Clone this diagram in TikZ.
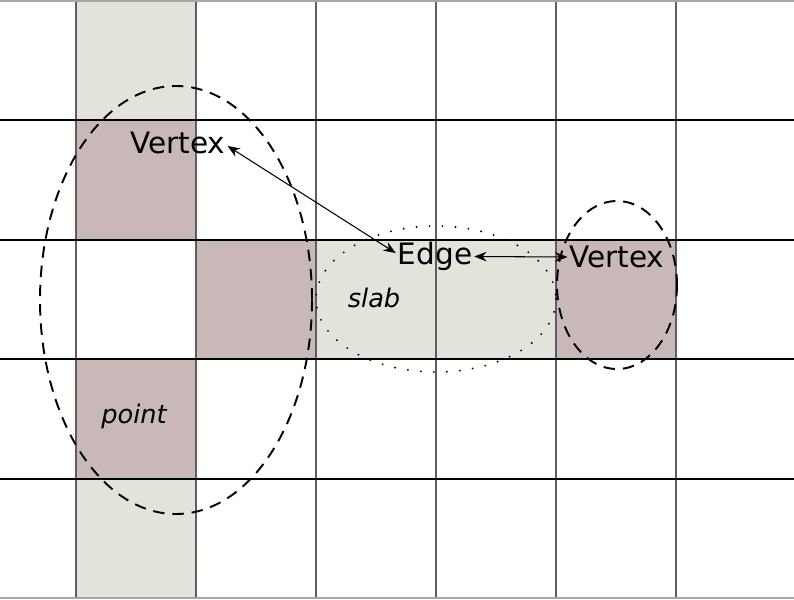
\documentclass[tikz,border=0pt]{standalone}
\usepackage{fontspec}
\setmainfont{DejaVu Sans}
\usetikzlibrary{arrows.meta}
\definecolor{SlabGrey}{HTML}{E3E2DB}
\definecolor{CellMauve}{HTML}{C8B8B8}
\definecolor{GridGrey}{HTML}{5E5E5E}

\begin{document}
\begin{tikzpicture}[x=0.02cm, y=-0.02cm, >={Stealth[length=7pt, width=5.5pt]},
    lbl/.style={font=\fontsize{16.8}{19}\selectfont, inner sep=1pt},
    tag/.style={font=\fontsize{14.6}{17}\selectfont\itshape, inner sep=1pt}]
  \useasboundingbox (0,0) rectangle (794,599);

  % Shaded cells
  \fill[SlabGrey] (76,0) rectangle (196,240);
  \fill[SlabGrey] (76,359) rectangle (196,599);
  \fill[SlabGrey] (316,240) rectangle (556,359);
  \fill[CellMauve] (76,120) rectangle (196,240);
  \fill[CellMauve] (196,240) rectangle (316,359);
  \fill[CellMauve] (76,359) rectangle (196,479);
  \fill[CellMauve] (556,240) rectangle (676,359);

  % Grid
  \foreach \x in {76,196,316,436,556,676}
    \draw[GridGrey, line width=1.1pt] (\x,0) -- (\x,599);
  \foreach \y in {120,240,359,479}
    \draw[line width=0.85pt] (0,\y) -- (794,\y);
  \draw[gray!70, line width=1pt] (0,0.8) -- (794,0.8) (0,598.2) -- (794,598.2);

  % Regions
  \draw[line width=1.1pt, dash pattern=on 6.5pt off 4.5pt] (176,300) ellipse [x radius=136, y radius=214];
  \draw[line width=1.1pt, dash pattern=on 6.5pt off 4.5pt] (617,285) ellipse [x radius=60, y radius=84];
  \draw[line width=1.2pt, line cap=round, dash pattern=on 0pt off 7.4pt] (436,299) ellipse [x radius=120, y radius=73];

  % Labels
  \node[lbl] (vertexA) at (178,142.5) {Vertex};
  \node[lbl] (edge) at (435,256.5) {Edge};
  \node[lbl] (vertexB) at (617,257) {Vertex};
  \node[tag] (slab) at (374,297.5) {slab};
  \node[tag] (point) at (134,416) {point};

  % Connections
  \draw[<->, line width=0.6pt] (vertexA.-4) -- (edge.175);
  \draw[<->, line width=0.6pt] (edge.east) -- (vertexB.west);
\end{tikzpicture}
\end{document}
